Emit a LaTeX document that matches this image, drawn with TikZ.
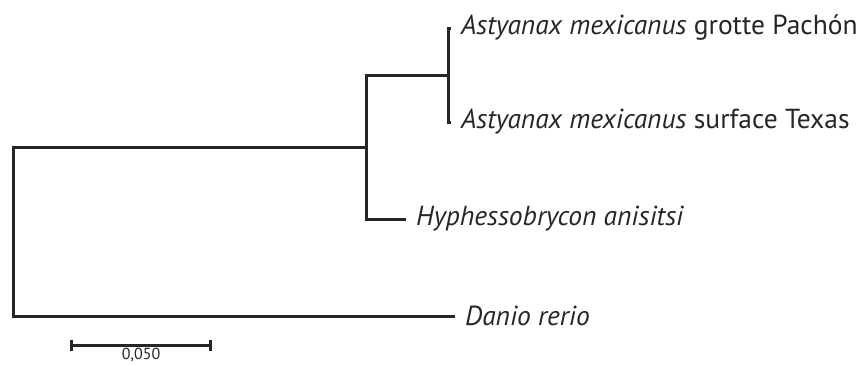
\documentclass[tikz,border=0pt]{standalone}
\usepackage{fontspec}
\setmainfont{PT Sans}
\usetikzlibrary{positioning,arrows.meta}

\begin{document}
\begin{tikzpicture}[x=1pt,y=-1pt,
  branch/.style={line width=3pt, color=black!85},
  leaf/.style={anchor=west, inner sep=0pt, font=\fontsize{27.5}{30}\selectfont, text=black!85}]
  \useasboundingbox (0,0) rectangle (867,365);
  % internal nodes
  \coordinate (root) at (13,231);
  \coordinate (in1) at (366,147);
  \coordinate (in2) at (448,75);
  % tips
  \coordinate (tPach) at (451,28);
  \coordinate (tTex) at (451,122);
  \coordinate (tHyph) at (406,219);
  \coordinate (tDanio) at (455,316);
  % labels
  \node[leaf, right=10pt of tPach] (pach) {\textit{Astyanax mexicanus} grotte Pachón};
  \node[leaf, right=10pt of tTex] (tex) {\textit{Astyanax mexicanus} surface Texas};
  \node[leaf, right=10pt of tHyph] (hyph) {\textit{Hyphessobrycon anisitsi}};
  \node[leaf, right=10pt of tDanio] (danio) {\textit{Danio rerio}};
  % branches
  \draw[branch] (tPach) -| (in2) |- (tTex);
  \draw[branch] (in2) -| (in1) |- (tHyph);
  \draw[branch] (in1) -| (root) |- (tDanio);
  % scale bar
  \coordinate (sbL) at (70,345);
  \coordinate (sbR) at (212,345);
  \draw[branch, {Bar[width=11pt]}-{Bar[width=11pt]}] (sbL) -- (sbR)
    node[midway, below=1.5pt, inner sep=0pt, font=\fontsize{16}{18}\selectfont] (sblabel) {0,050};
\end{tikzpicture}
\end{document}
